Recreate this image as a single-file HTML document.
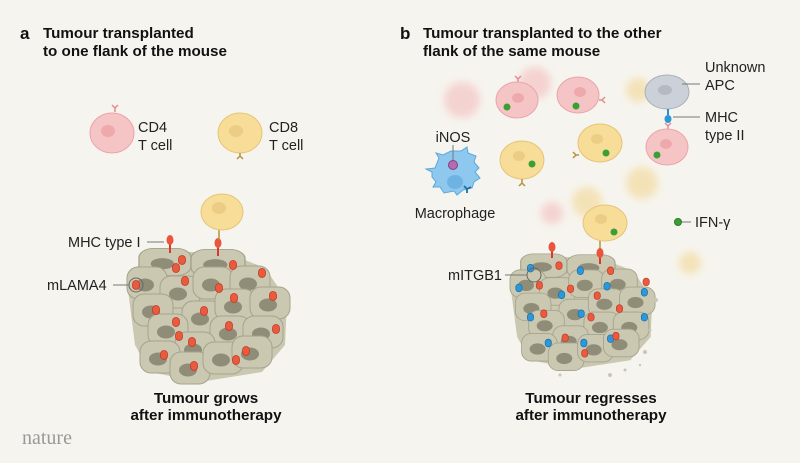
<!DOCTYPE html>
<html><head><meta charset="utf-8"><style>
html,body{margin:0;padding:0;background:#f6f4ee;}
svg{display:block}
text{font-family:"Liberation Sans",sans-serif;fill:#222;}
.t{font-weight:bold;font-size:15.2px;fill:#111}
.l{font-size:14.5px;fill:#222}
</style></head><body>
<svg width="800" height="463" viewBox="0 0 800 463" xmlns="http://www.w3.org/2000/svg">
<defs>
<filter id="bl" x="-50%" y="-50%" width="200%" height="200%"><feGaussianBlur stdDeviation="4"/></filter>
<g id="cell"><rect x="-20" y="-16" width="40" height="32" rx="11" fill="#cac8b1" stroke="#a5a38c" stroke-width="1"/><ellipse cx="-2" cy="2" rx="9" ry="6.5" fill="#8f8d78"/></g>
<g id="red"><rect x="-3.5" y="-4.5" width="7" height="9" rx="3.5" fill="#ea5a3f" stroke="#c23b26" stroke-width="0.8"/></g>
<g id="blue"><rect x="-3.5" y="-4.5" width="7" height="9" rx="3.5" fill="#2c97d9" stroke="#1a6fa8" stroke-width="0.8"/></g>
<g id="tum">
<path d="M135,268 L160,252 L225,252 L265,268 L287,300 L285,345 L262,372 L200,382 L150,372 L135,345 L128,290 Z" fill="#cac8b1"/>
<g transform="translate(165,262) scale(1.3,0.85)"><use href="#cell"/></g>
<g transform="translate(218,263) scale(1.35,0.85)"><use href="#cell"/></g>
<use href="#cell" x="147" y="283"/><use href="#cell" x="180" y="292"/><use href="#cell" x="213" y="283"/><use href="#cell" x="250" y="282"/>
<use href="#cell" x="153" y="310"/><use href="#cell" x="202" y="317"/><use href="#cell" x="235" y="305"/><use href="#cell" x="270" y="303"/>
<use href="#cell" x="168" y="330"/><use href="#cell" x="230" y="332"/><use href="#cell" x="263" y="332"/><use href="#cell" x="195" y="348"/>
<use href="#cell" x="160" y="357"/><use href="#cell" x="190" y="368"/><use href="#cell" x="223" y="358"/><use href="#cell" x="252" y="352"/>
</g>
</defs>

<text x="20" y="39" style="font-weight:bold;font-size:17px;fill:#111">a</text>
<text class="t" x="43" y="38">Tumour transplanted</text>
<text class="t" x="43" y="56">to one flank of the mouse</text>
<text x="400" y="39" style="font-weight:bold;font-size:17px;fill:#111">b</text>
<text class="t" x="423" y="38">Tumour transplanted to the other</text>
<text class="t" x="423" y="56">flank of the same mouse</text>

<path d="M115,112 v-4 m0,0 l-3,-3 m3,3 l3,-3" stroke="#e48c92" stroke-width="1.5" fill="none"/>
<ellipse cx="112" cy="133" rx="22" ry="20" fill="#f5c5c6" stroke="#eba3a8"/>
<ellipse cx="108" cy="131" rx="7" ry="6" fill="#eea9ad"/>
<text class="l" x="138" y="132">CD4</text><text class="l" x="138" y="150">T cell</text>
<ellipse cx="240" cy="133" rx="22" ry="20" fill="#f7dd98" stroke="#e6c477"/>
<ellipse cx="236" cy="131" rx="7" ry="6" fill="#eccd86"/>
<path d="M240,153 v3 m0,0 l-3,3 m3,-3 l3,3" stroke="#b8903f" stroke-width="1.5" fill="none"/>
<text class="l" x="269" y="132">CD8</text><text class="l" x="269" y="150">T cell</text>

<use href="#tum"/>
<use href="#red" x="182" y="260"/><use href="#red" x="176" y="268"/><use href="#red" x="233" y="265"/>
<use href="#red" x="136" y="285"/><use href="#red" x="185" y="281"/><use href="#red" x="219" y="288"/><use href="#red" x="262" y="273"/>
<use href="#red" x="156" y="310"/><use href="#red" x="204" y="311"/><use href="#red" x="234" y="298"/><use href="#red" x="273" y="296"/>
<use href="#red" x="176" y="322"/><use href="#red" x="179" y="336"/><use href="#red" x="229" y="326"/><use href="#red" x="276" y="329"/>
<use href="#red" x="192" y="342"/><use href="#red" x="164" y="355"/><use href="#red" x="194" y="366"/><use href="#red" x="236" y="360"/><use href="#red" x="246" y="351"/>
<circle cx="136" cy="285" r="7" fill="none" stroke="#666" stroke-width="1"/>
<line x1="113" y1="285" x2="129" y2="285" stroke="#777"/>
<text class="l" x="47" y="290">mLAMA4</text>
<text class="l" x="68" y="247">MHC type I</text>
<line x1="147" y1="242" x2="164" y2="242" stroke="#777"/>
<g stroke="#d63a2a" stroke-width="2"><line x1="170" y1="244" x2="170" y2="253"/><line x1="218" y1="247" x2="218" y2="256"/></g>
<ellipse cx="170" cy="240" rx="3.5" ry="5" fill="#e9553d"/><ellipse cx="218" cy="243" rx="3.5" ry="5" fill="#e9553d"/>
<line x1="219" y1="228" x2="219" y2="240" stroke="#b8903f" stroke-width="1.5"/>
<ellipse cx="222" cy="212" rx="21" ry="18" fill="#f7dd98" stroke="#e6c477"/>
<ellipse cx="219" cy="208" rx="7" ry="6" fill="#eccd86"/>
<text class="t" x="206" y="403" text-anchor="middle">Tumour grows</text>
<text class="t" x="206" y="420" text-anchor="middle">after immunotherapy</text>
<text x="22" y="444" style="font-family:'Liberation Serif',serif;font-size:20px;fill:#999">nature</text>

<g filter="url(#bl)" opacity="0.55">
<circle cx="462" cy="100" r="18" fill="#f3b7b9"/><circle cx="535" cy="83" r="16" fill="#f3b7b9"/>
<circle cx="638" cy="90" r="12" fill="#f2d48a"/><circle cx="642" cy="183" r="16" fill="#f2d48a"/>
<circle cx="587" cy="202" r="15" fill="#f2d48a"/><circle cx="552" cy="213" r="11" fill="#f3b7b9"/>
<circle cx="690" cy="263" r="11" fill="#f2d48a"/>
</g>
<path d="M518,82 v-3 m0,0 l-3,-3 m3,3 l3,-3" stroke="#e48c92" stroke-width="1.5" fill="none"/>
<ellipse cx="517" cy="100" rx="21" ry="18" fill="#f5c5c6" stroke="#eba3a8"/>
<ellipse cx="518" cy="98" rx="6" ry="5" fill="#eea9ad"/><circle cx="507" cy="107" r="3.5" fill="#3aa035"/>
<ellipse cx="578" cy="95" rx="21" ry="18" fill="#f5c5c6" stroke="#eba3a8"/>
<ellipse cx="580" cy="92" rx="6" ry="5" fill="#eea9ad"/><circle cx="576" cy="106" r="3.5" fill="#3aa035"/>
<path d="M599,100 h3 m0,0 l3,-3 m-3,3 l3,3" stroke="#e48c92" stroke-width="1.5" fill="none"/>
<ellipse cx="667" cy="92" rx="22" ry="17" fill="#ccd0d8" stroke="#a9aebb"/>
<ellipse cx="665" cy="90" rx="7" ry="5" fill="#b4b9c4"/>
<line x1="682" y1="84" x2="700" y2="84" stroke="#777"/>
<text class="l" x="705" y="72">Unknown</text><text class="l" x="705" y="90">APC</text>
<path d="M668,109 v6" stroke="#2c8fd0" stroke-width="2"/><ellipse cx="668" cy="119" rx="3.5" ry="4" fill="#2c97d9"/>
<path d="M668,130 v-4 m0,0 l-3,-3 m3,3 l3,-3" stroke="#e48c92" stroke-width="1.5" fill="none"/>
<line x1="673" y1="117" x2="700" y2="117" stroke="#777"/>
<text class="l" x="705" y="122">MHC</text><text class="l" x="705" y="140">type II</text>
<ellipse cx="667" cy="147" rx="21" ry="18" fill="#f5c5c6" stroke="#eba3a8"/>
<ellipse cx="666" cy="144" rx="6" ry="5" fill="#eea9ad"/><circle cx="657" cy="155" r="3.5" fill="#3aa035"/>
<ellipse cx="522" cy="160" rx="22" ry="19" fill="#f7dd98" stroke="#e6c477"/>
<ellipse cx="519" cy="156" rx="6" ry="5" fill="#eccd86"/><circle cx="532" cy="164" r="3.5" fill="#3aa035"/>
<path d="M522,179 v4 m0,0 l-3,3 m3,-3 l3,3" stroke="#b8903f" stroke-width="1.5" fill="none"/>
<ellipse cx="600" cy="143" rx="22" ry="19" fill="#f7dd98" stroke="#e6c477"/>
<ellipse cx="597" cy="139" rx="6" ry="5" fill="#eccd86"/><circle cx="606" cy="153" r="3.5" fill="#3aa035"/>
<path d="M579,155 h-3 m0,0 l-3,-3 m3,3 l-3,3" stroke="#b8903f" stroke-width="1.5" fill="none"/>
<path d="M432,172 l-6,-3 l9,-1 l4,-10 l-3,-5 l7,2 l8,-4 l10,0 l6,-4 l1,6 l8,3 l-2,6 l5,6 l-4,4 l5,6 l-6,4 l-2,6 l-9,2 l-6,5 l-3,-4 l-10,2 l-4,-6 l-7,0 l3,-5 l-4,-5 z" fill="#8ec8ef" stroke="#5aa8dc"/>
<ellipse cx="455" cy="182" rx="8" ry="7" fill="#6fb3e2"/>
<line x1="453" y1="145" x2="453" y2="162" stroke="#777"/>
<circle cx="453" cy="165" r="4.5" fill="#b46bb0" stroke="#83427f"/>
<path d="M467,193 v-4 m0,0 l-3,-3 m3,3 l4,-2" stroke="#1a6fa8" stroke-width="1.8" fill="none"/>
<text class="l" x="453" y="142" text-anchor="middle">iNOS</text>
<text class="l" x="455" y="218" text-anchor="middle">Macrophage</text>
<circle cx="678" cy="222" r="3.5" fill="#3aa035" stroke="#2a7a25"/>
<line x1="682" y1="222" x2="691" y2="222" stroke="#777"/>
<text class="l" x="695" y="227">IFN-γ</text>
<line x1="600" y1="240" x2="600" y2="252" stroke="#b8903f" stroke-width="1.5"/>
<ellipse cx="605" cy="223" rx="22" ry="18" fill="#f7dd98" stroke="#e6c477"/>
<ellipse cx="601" cy="219" rx="6" ry="5" fill="#eccd86"/><circle cx="614" cy="232" r="3.5" fill="#3aa035"/>
<g transform="translate(510,257) scale(0.89,0.86) translate(-127,-252)">
<use href="#tum"/>
<use href="#red" x="182" y="262"/><use href="#blue" x="150" y="265"/><use href="#red" x="240" y="268"/><use href="#blue" x="206" y="268"/>
<use href="#red" x="160" y="285"/><use href="#blue" x="137" y="288"/><use href="#red" x="195" y="289"/><use href="#blue" x="185" y="296"/>
<use href="#red" x="225" y="297"/><use href="#blue" x="236" y="286"/><use href="#red" x="280" y="281"/><use href="#blue" x="278" y="293"/>
<use href="#red" x="165" y="318"/><use href="#blue" x="150" y="322"/><use href="#red" x="250" y="312"/><use href="#blue" x="278" y="322"/>
<use href="#blue" x="207" y="318"/><use href="#red" x="218" y="322"/><use href="#red" x="189" y="346"/><use href="#blue" x="170" y="352"/>
<use href="#blue" x="210" y="352"/><use href="#red" x="211" y="364"/><use href="#blue" x="240" y="347"/><use href="#red" x="246" y="344"/>
</g>
<g fill="#c9c6b4"><circle cx="656" cy="300" r="2"/><circle cx="650" cy="330" r="1.5"/><circle cx="645" cy="352" r="2"/><circle cx="625" cy="370" r="1.5"/><circle cx="610" cy="375" r="2"/><circle cx="560" cy="375" r="1.5"/><circle cx="545" cy="358" r="1.5"/><circle cx="640" cy="365" r="1.2"/></g>
<circle cx="534" cy="275" r="7" fill="none" stroke="#666"/>
<line x1="505" y1="275" x2="527" y2="275" stroke="#777"/>
<text class="l" x="448" y="280">mITGB1</text>
<g stroke="#d63a2a" stroke-width="2"><line x1="552" y1="250" x2="552" y2="258"/><line x1="600" y1="256" x2="600" y2="264"/></g>
<ellipse cx="552" cy="247" rx="3.5" ry="5" fill="#e9553d"/><ellipse cx="600" cy="253" rx="3.5" ry="5" fill="#e9553d"/>
<text class="t" x="591" y="403" text-anchor="middle">Tumour regresses</text>
<text class="t" x="591" y="420" text-anchor="middle">after immunotherapy</text>
</svg>
</body></html>
